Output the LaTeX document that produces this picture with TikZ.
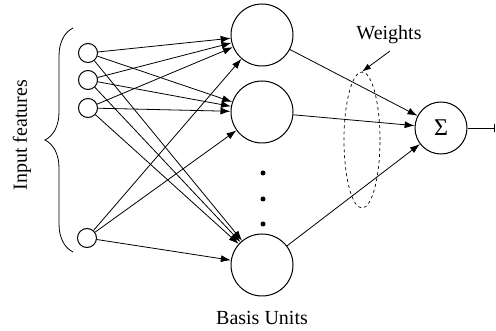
\documentclass[tikz,border=0pt]{standalone}
\usepackage{fontspec}
\setmainfont{Liberation Serif}
\usetikzlibrary{arrows.meta,decorations.pathreplacing,shapes.geometric}
\begin{document}
\begin{tikzpicture}[x=1pt,y=-1pt,
  inp/.style={circle,draw,line width=1pt,minimum size=19pt,inner sep=0pt},
  basis/.style={circle,draw,line width=1pt,minimum size=62pt,inner sep=0pt},
  sumnode/.style={circle,draw,line width=1pt,minimum size=52pt,inner sep=0pt,font=\fontsize{24}{26}\selectfont},
  conn/.style={line width=0.8pt,-{Latex[length=10pt,width=7pt]}},
  lbl/.style={font=\fontsize{20}{22}\selectfont},
  dotn/.style={circle,fill,minimum size=5pt,inner sep=0pt}]
\useasboundingbox (0,0) rectangle (496,331);
% input nodes
\node[inp] (i1) at (88,53) {};
\node[inp] (i2) at (88,80) {};
\node[inp] (i3) at (88,108) {};
\node[inp] (i4) at (87,238) {};
% basis units
\node[basis] (b1) at (262,35) {};
\node[basis] (b2) at (262,112) {};
\node[basis] (b3) at (262,265) {};
\node[dotn] (d1) at (263,173) {};
\node[dotn] (d2) at (263,199) {};
\node[dotn] (d3) at (263,224) {};
% sum
\node[sumnode] (s) at (441,128) {Σ};
\coordinate (out) at (495,128);
% connections
\foreach \i in {i1,i2,i3,i4}
  \foreach \b in {b1,b2,b3}
    \draw[conn] (\i) -- (\b);
\foreach \b in {b1,b2,b3}
  \draw[conn] (\b) -- (s);
\draw[line width=0.8pt,-{Bar[width=8pt]}] (s) -- (out);
% brace
\coordinate (bt) at (73,28);
\coordinate (bb) at (73,252);
\draw[line width=0.8pt,decorate,decoration={brace,amplitude=28pt}] (bb) -- (bt);
\node[lbl,rotate=90] (inf) at (22,135) {Input features};
% weights
\node[ellipse,draw,dashed,line width=0.7pt,minimum width=36pt,minimum height=136pt,inner sep=0pt] (w) at (362,140) {};
\node[lbl] (wl) at (389,35) {Weights};
\coordinate (wa) at (390,51);
\draw[line width=0.8pt,-{Latex[length=9pt,width=6pt]}] (wa) -- (w.north);
% basis label
\node[lbl] (bl) at (262,318) {Basis Units};
\end{tikzpicture}
\end{document}
